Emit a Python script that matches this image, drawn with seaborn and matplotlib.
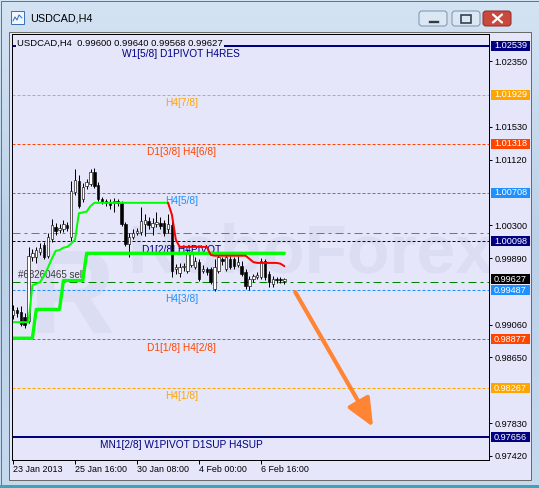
import numpy as np
import pandas as pd
import matplotlib
matplotlib.use("Agg")
import matplotlib.pyplot as plt
from matplotlib.patches import Rectangle, FancyBboxPatch, FancyArrowPatch, ArrowStyle
from matplotlib.transforms import blended_transform_factory
from matplotlib.colors import LinearSegmentedColormap
import seaborn as sns

# ---------------- data ----------------
symbol = "USDCAD,H4"

opens = [0.9918, 0.9924, 0.9922, 0.9915, 0.9910, 0.9990, 0.9990, 0.9996, 1.0005, 0.9991,
         1.0013, 1.0028, 1.0024, 1.0025, 1.0030, 1.0015, 1.0071, 1.0085, 1.0063, 1.0079,
         1.0081, 1.0096, 1.0080, 1.0063, 1.0060, 1.0059, 1.0058, 1.0060, 1.0058, 1.0031,
         1.0006, 1.0015, 1.0020, 1.0021, 1.0031, 1.0035, 1.0028, 1.0031, 1.0033, 1.0033,
         1.0025, 1.0030, 0.9975, 0.9970, 0.9978, 0.9973, 0.9980, 0.9978, 0.9984, 0.9973,
         0.9975, 0.9975, 0.9950, 0.9973, 0.9988, 0.9975, 0.9988, 0.9988, 0.9980, 0.9979,
         0.9972, 0.9954, 0.9963, 0.9965, 0.9965, 0.9985, 0.9969, 0.9957, 0.9963, 0.9963,
         0.99600]
highs = [0.9930, 0.9928, 0.9929, 0.9920, 1.0003, 1.0000, 1.0003, 1.0008, 1.0009, 1.0020,
         1.0038, 1.0033, 1.0031, 1.0036, 1.0034, 1.0085, 1.0100, 1.0093, 1.0083, 1.0088,
         1.0100, 1.0101, 1.0084, 1.0065, 1.0063, 1.0063, 1.0064, 1.0063, 1.0060, 1.0034,
         1.0020, 1.0025, 1.0026, 1.0053, 1.0044, 1.0040, 1.0039, 1.0046, 1.0040, 1.0036,
         1.0044, 1.0035, 0.9982, 0.9983, 0.9983, 1.0000, 0.9998, 0.9990, 0.9988, 0.9980,
         0.9978, 0.9978, 0.9988, 0.9993, 0.9990, 0.9993, 0.9991, 0.9990, 0.9991, 0.9985,
         0.9975, 0.9967, 0.9969, 0.9972, 0.9989, 0.9988, 0.9973, 0.9967, 0.9965, 0.9966,
         0.99640]
lows = [0.9913, 0.9915, 0.9904, 0.9902, 0.9908, 0.9985, 0.9983, 0.9993, 0.9988, 0.9989,
        1.0009, 1.0018, 1.0020, 1.0021, 1.0023, 1.0010, 1.0068, 1.0051, 1.0059, 1.0075,
        1.0079, 1.0076, 1.0060, 1.0056, 1.0054, 1.0050, 1.0046, 1.0054, 1.0029, 1.0004,
        0.9990, 1.0013, 1.0018, 1.0018, 1.0016, 1.0025, 1.0018, 1.0028, 1.0025, 1.0016,
        1.0020, 0.9965, 0.9969, 0.9965, 0.9973, 0.9970, 0.9978, 0.9975, 0.9960, 0.9970,
        0.9968, 0.9957, 0.9948, 0.9970, 0.9980, 0.9973, 0.9975, 0.9975, 0.9978, 0.9967,
        0.9950, 0.9949, 0.9959, 0.9963, 0.9963, 0.9962, 0.9953, 0.9953, 0.9958, 0.9958,
        0.99568]
closes = [0.9924, 0.9920, 0.9907, 0.9905, 0.9991, 0.9995, 0.9999, 1.0001, 0.9990, 1.0015,
          1.0030, 1.0023, 1.0026, 1.0031, 1.0026, 1.0073, 1.0086, 1.0054, 1.0078, 1.0084,
          1.0096, 1.0079, 1.0063, 1.0059, 1.0058, 1.0055, 1.0060, 1.0058, 1.0031, 1.0006,
          1.0015, 1.0020, 1.0023, 1.0035, 1.0036, 1.0030, 1.0033, 1.0034, 1.0029, 1.0020,
          1.0031, 0.9973, 0.9978, 0.9978, 0.9979, 0.9996, 0.9996, 0.9985, 0.9963, 0.9975,
          0.9972, 0.9959, 0.9978, 0.9990, 0.9985, 0.9990, 0.9978, 0.9979, 0.9984, 0.9969,
          0.9954, 0.9963, 0.9967, 0.9968, 0.9985, 0.9965, 0.9959, 0.9963, 0.9962, 0.9962,
          0.99627]

# trailing stop indicator: green while below price (bars 0..40), red above (bars 40..70)
trail_up = [0.9909, 0.9909, 0.9909, 0.9909, 0.9909, 0.9955, 0.9957, 0.9959, 0.9967, 0.9977,
            0.9988, 0.9998, 0.9999, 1.0002, 1.0003, 1.0007, 1.0012, 1.0045, 1.0046, 1.0047,
            1.0054, 1.0058, 1.0058, 1.0058, 1.0058, 1.0058, 1.0058, 1.0058, 1.0058, 1.0058,
            1.0058, 1.0058, 1.0058, 1.0058, 1.0058, 1.0058, 1.0058, 1.0058, 1.0058, 1.0058,
            1.0058]
trail_down = [1.0058, 1.0043, 1.0012, 1.0003, 1.0003, 1.0003, 1.0003, 1.0003, 1.0003, 1.0003,
              1.0003, 0.9993, 0.9992, 0.9992, 0.9992, 0.9992, 0.9992, 0.9992, 0.9992, 0.9992,
              0.9992, 0.9988, 0.9984, 0.9983, 0.9983, 0.9983, 0.9983, 0.9983, 0.9983, 0.9982,
              0.9979]
# slow support channel (thick line), bars 0..70
support = [0.9889, 0.9889, 0.9889, 0.9889, 0.9889, 0.9889, 0.9925, 0.9925, 0.9925, 0.9925,
           0.9925, 0.9925, 0.9925, 0.9961, 0.9961, 0.9961, 0.9961, 0.9961, 0.9961, 0.9995,
           0.9995, 0.9995, 0.9995, 0.9995, 0.9995, 0.9995, 0.9995, 0.9995, 0.9995, 0.9995,
           0.9995, 0.9995, 0.9995, 0.9995, 0.9995, 0.9995, 0.9995, 0.9995, 0.9995, 0.9995,
           0.9995, 0.9995, 0.9995, 0.9995, 0.9995, 0.9995, 0.9995, 0.9995, 0.9995, 0.9995,
           0.9995, 0.9995, 0.9995, 0.9995, 0.9995, 0.9995, 0.9995, 0.9995, 0.9995, 0.9995,
           0.9995, 0.9995, 0.9995, 0.9995, 0.9995, 0.9995, 0.9995, 0.9995, 0.9995, 0.9995,
           0.9995]

# Murrey math levels
level_prices = [1.02539, 1.01929, 1.01318, 1.00708, 1.00098, 0.99487, 0.98877, 0.98267, 0.97656]
level_names = ["W1[5/8] D1PIVOT H4RES", "H4[7/8]", "D1[3/8] H4[6/8]", "H4[5/8]",
               "D1[2/8] H4PIVOT", "H4[3/8]", "D1[1/8] H4[2/8]", "H4[1/8]",
               "MN1[2/8] W1PIVOT D1SUP H4SUP"]
level_colors = ["#000080", "#FFA500", "#FF4500", "#1E90FF", "#000080",
                "#1E90FF", "#FF4500", "#FFA500", "#000080"]
level_solid = [True, False, False, False, False, False, False, False, True]
level_label_bar = 43.4

# open order
order_label = "#68260465 sell"
order_price = 0.9959
stop_price = 1.0020
bid_price = 0.99627

# forecast arrow (bar, price)
arrow_from = (72.8, 0.99467)
arrow_to = (92.9, 0.97782)

price_ticks = [1.02350, 1.01530, 1.01120, 1.00300, 0.99890, 0.99060, 0.98650, 0.97830, 0.97420]
time_tick_bars = [0, 16, 32, 48, 64]
time_tick_labels = ["23 Jan 2013", "25 Jan 16:00", "30 Jan 08:00", "4 Feb 00:00", "6 Feb 16:00"]

# ---------------- style ----------------
sns.set_style("white")
plt.rcParams["font.family"] = ["Liberation Sans", "DejaVu Sans"]
plt.rcParams["lines.scale_dashes"] = False
plt.rcParams["axes.unicode_minus"] = False

W, H = 539, 488
PX = 0.72  # points per pixel at 100 dpi
BG = "#E6E6FA"

fig = plt.figure(figsize=(W / 100, H / 100), dpi=100)

# ---------------- terminal window frame ----------------
bg = fig.add_axes([0, 0, 1, 1])
bg.set_xlim(0, W)
bg.set_ylim(H, 0)
bg.axis("off")
frame_cmap = LinearSegmentedColormap.from_list("frame", ["#D4E3F3", "#BBD1E8", "#C6DAEE"])
bg.imshow(np.linspace(0, 1, 256)[:, None], extent=(0, W, H, 0), cmap=frame_cmap,
          aspect="auto", zorder=0)
bg.add_patch(Rectangle((0.5, 0.5), W - 1, H - 1, fill=False, ec="#4F7AA3", lw=PX, zorder=1))
bg.add_patch(Rectangle((0, H - 3), W, 3, fc="#3AA5B8", ec="none", zorder=1))
bg.add_patch(Rectangle((8.5, 31.5), 522, 448, fc=BG, ec="#6A6A6A", lw=PX, zorder=1))

# window icon and caption
bg.add_patch(Rectangle((11, 11), 13, 13, fc="#F2F7FD", ec="#3B72BE", lw=PX, zorder=2))
bg.plot([13, 15, 17, 19, 22], [21, 17, 20, 15, 18], color="#2F6DC2", lw=PX, zorder=3)
bg.text(30, 18.5, symbol, fontsize=7.8, va="center", ha="left", color="#000000", zorder=3)

# caption buttons
for x0, fc, ec in [(419, "#DCE7F4", "#7D93B0"), (452, "#DCE7F4", "#7D93B0"),
                   (483, "#C9493D", "#8A2E25")]:
    bg.add_patch(FancyBboxPatch((x0, 11), 28, 15, boxstyle="round,pad=0,rounding_size=3",
                                fc=fc, ec=ec, lw=PX, zorder=2))
bg.add_patch(Rectangle((428, 19.5), 11, 3, fc="#2E3C50", ec="white", lw=0.5 * PX, zorder=3))
bg.add_patch(Rectangle((461, 14.5), 10, 8, fill=False, ec="#2E3C50", lw=1.6 * PX, zorder=3))
bg.plot([493, 502], [14.5, 22.5], color="white", lw=2.2 * PX, zorder=3)
bg.plot([493, 502], [22.5, 14.5], color="white", lw=2.2 * PX, zorder=3)

# ---------------- chart ----------------
ax = fig.add_axes([12 / W, 1 - 460 / H, 477 / W, 426 / H])
ax.set_facecolor(BG)
ax.set_xlim(-0.26, 122.8)
ax.set_ylim(0.97370, 1.02687)
for s in ax.spines.values():
    s.set_color("black")
    s.set_linewidth(PX)
    s.set_zorder(12)

# broker watermark
wm = "#DBDDF3"
ax.text(4.2, 0.9895, "R", fontsize=86, fontweight="bold", color=wm, ha="left",
        va="baseline", zorder=0.5)
ax.text(29.5, 0.9971, "RoboForex", fontsize=50, fontweight="bold", color=wm, ha="left",
        va="baseline", zorder=0.5, clip_on=True)

# levels
dash = (0, (3 * PX, 2 * PX))
for p, name, col, solid in zip(level_prices, level_names, level_colors, level_solid):
    ax.axhline(p, color=col, lw=(2 * PX if solid else PX),
               linestyle=("-" if solid else dash), zorder=2)
    ax.annotate(name, xy=(level_label_bar, p), xytext=(0, -2.4), textcoords="offset points",
                ha="center", va="top", fontsize=7.3, color=col, zorder=3)

dashdot = (0, (8 * PX, 4 * PX, 3 * PX, 4 * PX))
ax.axhline(stop_price, color="#FF4500", lw=PX, linestyle=dashdot, zorder=2)
ax.axhline(order_price, color="#008000", lw=PX, linestyle=dashdot, zorder=2)
ax.annotate(order_label, xy=(1.3, order_price), xytext=(0, 1.2), textcoords="offset points",
            ha="left", va="bottom", fontsize=7, color="#3A3A3A", zorder=3)

# candlesticks
o, h, l, c = (np.array(v) for v in (opens, highs, lows, closes))
bars = np.arange(len(o))
up = c >= o
ax.vlines(bars, l, h, color="black", lw=PX, zorder=5)
body = np.maximum(np.abs(c - o), 0.00006)
ax.bar(bars, body, bottom=np.minimum(o, c), width=0.62,
       color=np.where(up, "white", "black"), edgecolor="black", linewidth=0.6 * PX, zorder=6)

# indicator lines
df_support = pd.DataFrame({"bar": bars, "price": support})
df_up = pd.DataFrame({"bar": np.arange(len(trail_up)), "price": trail_up})
df_down = pd.DataFrame({"bar": np.arange(len(trail_up) - 1, len(trail_up) - 1 + len(trail_down)),
                        "price": trail_down})
sns.lineplot(data=df_support, x="bar", y="price", color="#00FF00", lw=3.3 * PX, ax=ax,
             zorder=7, legend=False)
sns.lineplot(data=df_up, x="bar", y="price", color="#00FF00", lw=2 * PX, ax=ax,
             zorder=8, legend=False)
sns.lineplot(data=df_down, x="bar", y="price", color="#FF0000", lw=2 * PX, ax=ax,
             zorder=8, legend=False)

# forecast arrow
ax.add_patch(FancyArrowPatch(arrow_from, arrow_to,
                             arrowstyle=ArrowStyle("-|>", head_length=17, head_width=7.5),
                             mutation_scale=1, lw=3.0, color="#FF8433", shrinkA=0, shrinkB=0,
                             zorder=9))

# header line
ax.text((17 - 12) / 477, (460 - 43) / 426,
        f"{symbol}  {opens[-1]:.5f} {highs[-1]:.5f} {lows[-1]:.5f} {closes[-1]:.5f}",
        transform=ax.transAxes, fontsize=6.8, ha="left", va="center", color="black",
        bbox=dict(fc=BG, ec="none", pad=0.6), zorder=11)

# price scale
ax.yaxis.tick_right()
ax.set_yticks(price_ticks)
ax.set_yticklabels([f"{t:.5f}" for t in price_ticks])
ax.tick_params(axis="y", direction="out", length=3 * PX, width=PX, pad=1.6, labelsize=6.6,
               colors="black", right=True, left=False)
ax.set_ylabel("")

# time scale
ax.set_xticks(time_tick_bars)
ax.set_xticklabels(time_tick_labels, ha="left")
ax.tick_params(axis="x", direction="out", length=4 * PX, width=PX, pad=1.0, labelsize=6.4,
               colors="black", bottom=True)
ax.set_xlabel("")

# value boxes on the price scale
bt = blended_transform_factory(ax.transAxes, ax.transData)
half = 5 * 0.00012481
box_prices = level_prices + [bid_price]
box_colors = level_colors + ["#000000"]
for p, col in zip(box_prices, box_colors):
    ax.add_patch(Rectangle(((491 - 12) / 477, p - half), 39 / 477, 2 * half, transform=bt,
                           fc=col, ec="none", clip_on=False, zorder=13))
    ax.text((494 - 12) / 477, p, f"{p:.5f}", transform=bt, fontsize=6.6, color="white",
            ha="left", va="center", clip_on=False, zorder=14)

fig.savefig("out.png", dpi=100)
